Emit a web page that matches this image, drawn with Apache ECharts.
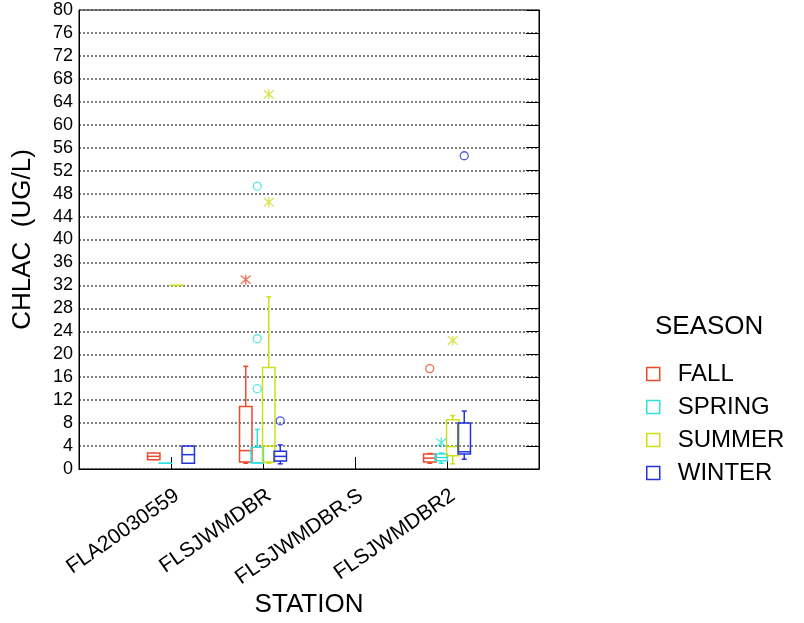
<!DOCTYPE html>
<html>
<head>
<meta charset="utf-8">
<script src="https://cdn.jsdelivr.net/npm/echarts@6/dist/echarts.min.js"></script>
<style>html,body{margin:0;padding:0;background:#fff;}#c{width:804px;height:623px;}</style>
</head>
<body>
<div id="c"></div>
<script>
// ---- data ----
const stations = ['FLA20030559', 'FLSJWMDBR', 'FLSJWMDBR.S', 'FLSJWMDBR2'];
const seasons = ['FALL', 'SPRING', 'SUMMER', 'WINTER'];
const yTicks = [0, 4, 8, 12, 16, 20, 24, 28, 32, 36, 40, 44, 48, 52, 56, 60, 64, 68, 72, 76, 80];

// box stats per station: [min, q1, median, q3, max] (null = no data)
const fallBox   = [[1.6, 1.6, 2.2, 2.8, 2.8], [1.0, 1.2, 3.2, 10.9, 17.9], null, [1.0, 1.2, 1.9, 2.6, 2.7]];
const springBox = [[1.0, 1.0, 1.0, 1.0, 1.0], [1.0, 1.05, 1.1, 3.8, 6.9], null, [1.0, 1.45, 2.0, 2.6, 2.8]];
const summerBox = [[32, 32, 32, 32, 32], [1.0, 1.2, 4.0, 17.7, 30.0], null, [0.9, 2.3, 3.9, 8.6, 9.3]];
const winterBox = [[1.0, 1.0, 2.5, 4.0, 4.0], [0.9, 1.4, 2.2, 3.1, 4.2], null, [1.7, 2.6, 3.0, 8.0, 10.1]];

// outliers: [stationIndex, value]
const fallCircle   = [[3, 17.5]];
const fallStar     = [[1, 33.0]];
const springCircle = [[1, 14.0], [1, 22.7], [1, 49.3]];
const springStar   = [[3, 4.6]];
const summerCircle = [];
const summerStar   = [[1, 46.5], [1, 65.3], [3, 22.4]];
const winterCircle = [[1, 8.4], [3, 54.6]];
const winterStar   = [];

// ---- styling ----
const colors = ['#EC4A2C', '#33E0E0', '#CCDF1A', '#2233DD'];
const offsets = [-0.1875, -0.0625, 0.0625, 0.1875];
const boxW = 0.135;
const FF = '"Liberation Sans", Arial, sans-serif';
const boxes = [fallBox, springBox, summerBox, winterBox];
const circles = [fallCircle, springCircle, summerCircle, winterCircle];
const stars = [fallStar, springStar, summerStar, winterStar];

function renderer(si) {
  const color = colors[si];
  return function (params, api) {
    const x = api.value(0) + offsets[si];
    const v = [1, 2, 3, 4, 5].map(k => api.value(k));
    const hw = api.size([boxW, 0])[0] / 2;
    const cx = api.coord([x, 0])[0];
    const y = v.map(val => api.coord([x, val])[1]);
    const st = { stroke: color, lineWidth: 1.5, fill: null };
    const ch = [];
    ch.push({ type: 'rect', shape: { x: cx - hw, y: y[3], width: 2 * hw, height: Math.max(y[1] - y[3], 0.01) }, style: st });
    ch.push({ type: 'line', shape: { x1: cx - hw, y1: y[2], x2: cx + hw, y2: y[2] }, style: st });
    const cap = 2.5;
    if (v[4] > v[3]) {
      ch.push({ type: 'line', shape: { x1: cx, y1: y[3], x2: cx, y2: y[4] }, style: st });
      ch.push({ type: 'line', shape: { x1: cx - cap, y1: y[4], x2: cx + cap, y2: y[4] }, style: st });
    }
    if (v[0] < v[1]) {
      ch.push({ type: 'line', shape: { x1: cx, y1: y[1], x2: cx, y2: y[0] }, style: st });
      ch.push({ type: 'line', shape: { x1: cx - cap, y1: y[0], x2: cx + cap, y2: y[0] }, style: st });
    }
    return { type: 'group', children: ch };
  };
}

const series = [];
seasons.forEach((s, si) => {
  const data = [];
  boxes[si].forEach((b, i) => { if (b) data.push([i + 1].concat(b)); });
  series.push({
    name: s, type: 'custom', renderItem: renderer(si), data: data,
    encode: { x: 0, y: [1, 2, 3, 4, 5] }, itemStyle: { color: colors[si] }, z: 3
  });
  series.push({
    name: s, type: 'scatter', symbol: 'circle', symbolSize: 8,
    data: circles[si].map(d => [d[0] + 1 + offsets[si], d[1]]),
    itemStyle: { color: 'rgba(0,0,0,0)', borderColor: colors[si], borderWidth: 1.3 }, z: 4
  });
  series.push({
    name: s, type: 'scatter', symbol: 'path://M0,0L10,10M10,0L0,10M5,-1L5,11', symbolSize: [10, 10],
    data: stars[si].map(d => [d[0] + 1 + offsets[si], d[1]]),
    itemStyle: { color: 'rgba(0,0,0,0)', borderColor: colors[si], borderWidth: 1.3 }, z: 4
  });
});

const chart = echarts.init(document.getElementById('c'), null, { renderer: 'canvas' });
chart.setOption({
  animation: false,
  textStyle: { fontFamily: FF },
  title: { text: 'SEASON', left: 655, top: 314, padding: 0, textStyle: { fontSize: 26, fontWeight: 'normal', color: '#000', fontFamily: FF } },
  legend: {
    orient: 'vertical', left: 646, top: 362, itemWidth: 13, itemHeight: 13, itemGap: 9,
    icon: 'rect', selectedMode: false, padding: 0,
    textStyle: { fontSize: 24, color: '#000', fontFamily: FF, padding: [0, 0, 0, 13] },
    data: seasons.map((s, i) => ({ name: s, icon: 'rect', itemStyle: { color: 'rgba(0,0,0,0)', borderColor: colors[i], borderWidth: 1.5 } }))
  },
  grid: { left: 79, right: 265, top: 10, bottom: 153, show: true, borderColor: '#000', borderWidth: 1, backgroundColor: 'transparent' },
  xAxis: {
    type: 'value', min: 0, max: 5, interval: 1,
    axisLine: { lineStyle: { color: '#000', width: 1 } },
    axisTick: { inside: true, length: 12, lineStyle: { color: '#000' } },
    splitLine: { show: false },
    axisLabel: { rotate: 35, fontSize: 21, color: '#000', margin: 16, fontFamily: FF, verticalAlign: 'top',
      formatter: v => stations[Math.round(v) - 1] || '' },
    name: 'STATION', nameLocation: 'middle', nameGap: 123, nameMoveOverlap: false,
    nameTextStyle: { fontSize: 26, color: '#000', fontFamily: FF }
  },
  yAxis: [{
    type: 'value', min: yTicks[0], max: yTicks[yTicks.length - 1], interval: yTicks[1] - yTicks[0],
    axisLine: { show: true, lineStyle: { color: '#000' } },
    axisTick: { show: false },
    axisLabel: { fontSize: 18, color: '#000', margin: 6, fontFamily: FF },
    splitLine: { show: true, lineStyle: { color: '#555', type: [2, 2], width: 1.5 } },
    name: 'CHLAC  (UG/L)', nameLocation: 'middle', nameGap: 43, nameMoveOverlap: false,
    nameTextStyle: { fontSize: 26, color: '#000', fontFamily: FF }
  }, {
    type: 'value', position: 'right', min: yTicks[0], max: yTicks[yTicks.length - 1], interval: yTicks[1] - yTicks[0],
    axisLine: { show: true, lineStyle: { color: '#000' } },
    axisTick: { show: true, inside: true, length: 13, lineStyle: { color: '#000' } },
    axisLabel: { show: false }, splitLine: { show: false }
  }],
  series: series
});
</script>
</body>
</html>
